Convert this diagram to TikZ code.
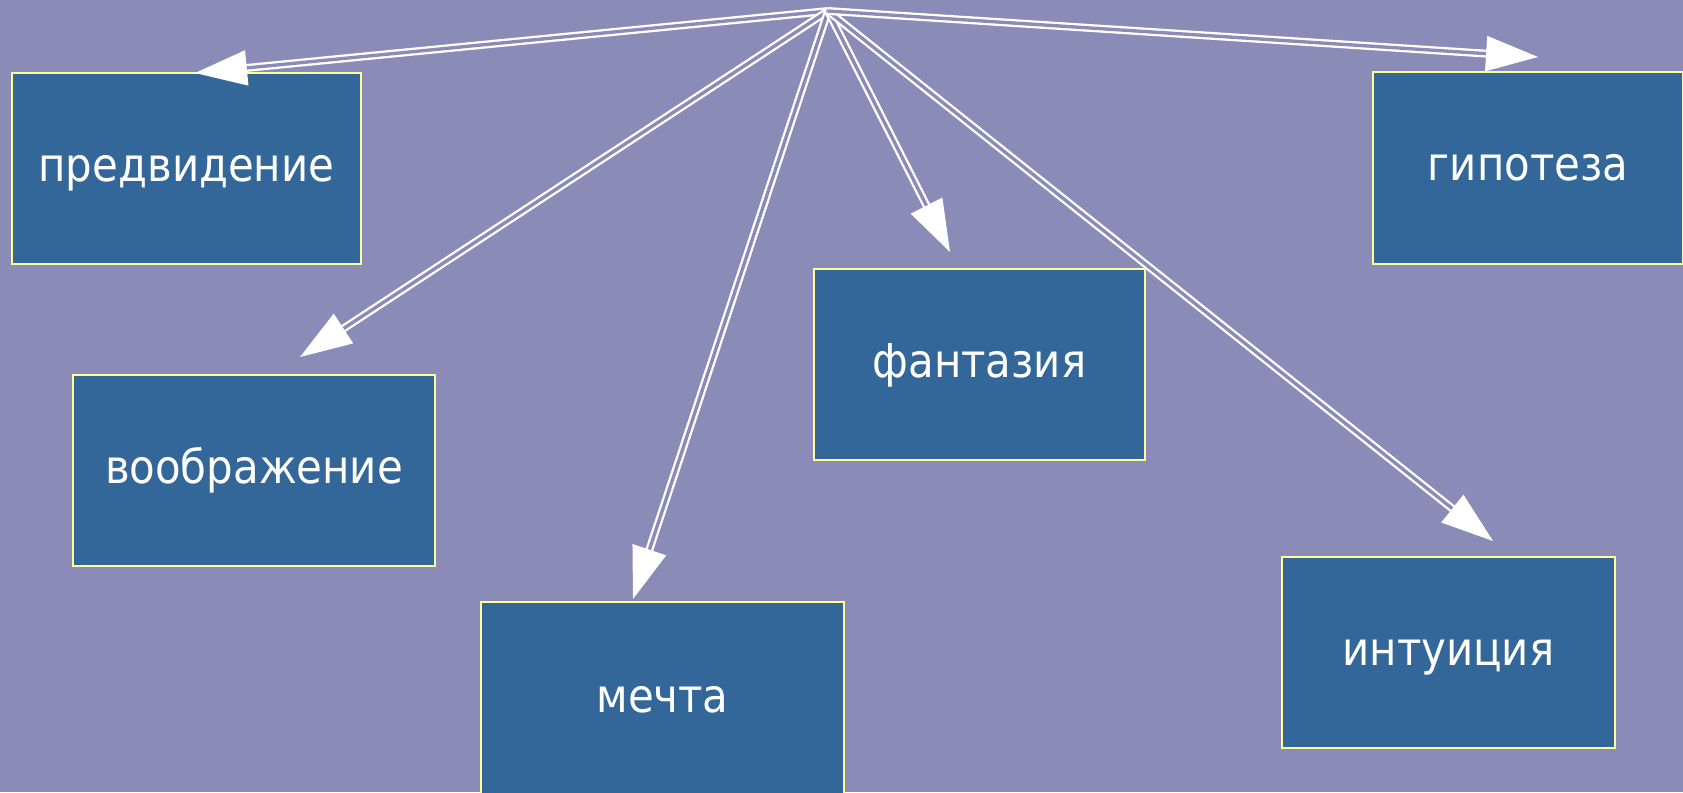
\documentclass[tikz,border=0pt]{standalone}
\usepackage{fontspec}
\setmainfont{DejaVu Sans Condensed}
\usetikzlibrary{arrows.meta}
\definecolor{slidebg}{RGB}{139,139,184}
\definecolor{boxblue}{RGB}{51,102,153}
\definecolor{boxedge}{RGB}{255,255,153}

\begin{document}
\begin{tikzpicture}[x=0.02cm,y=-0.02cm]
            \tikzset{box/.style = {draw=boxedge, line width=1.2pt, fill=boxblue, text=white, inner sep=0pt, text height=14.5pt, text depth=0pt, font=\fontsize{26.5}{30}\selectfont}}
            \tikzset{edge/.style = {draw=white, double=slidebg, line width=1.3pt, double distance=1.9pt, -{Triangle[length=1.04cm,width=0.7cm,fill=white]}}}

            % slide
            \fill[slidebg] (0,0) rectangle (1683,792);
            \useasboundingbox (0,0) rectangle (1683,792);
            \clip (0,0) rectangle (1683,792);

            % boxes
            \node[box, minimum width=6.98cm, minimum height=3.82cm] (pred) at (186.5,168.5) {предвидение};
            \node[box, minimum width=6.2cm, minimum height=3.84cm] (gip) at (1528,168) {гипотеза};
            \node[box, minimum width=7.24cm, minimum height=3.82cm] (voob) at (254,470.5) {воображение};
            \node[box, minimum width=6.62cm, minimum height=3.82cm] (fant) at (979.5,364.5) {фантазия};
            \node[box, minimum width=7.26cm, minimum height=3.92cm] (mech) at (662.5,700) {мечта};
            \node[box, minimum width=6.66cm, minimum height=3.82cm] (intu) at (1448.5,652.5) {интуиция};

            % arrow ends
            \coordinate (src) at (828,11);
            \coordinate (tpred) at (195,73);
            \coordinate (tgip) at (1538,57);
            \coordinate (tvoob) at (300,357);
            \coordinate (tfant) at (950,252);
            \coordinate (tmech) at (633,599);
            \coordinate (tintu) at (1493,541);

            % arrows
            \draw[edge] (src) -- (tpred);
            \draw[edge] (src) -- (tvoob);
            \draw[edge] (src) -- (tmech);
            \draw[edge] (src) -- (tfant);
            \draw[edge] (src) -- (tintu);
            \draw[edge] (src) -- (tgip);

\end{tikzpicture}
\end{document}
